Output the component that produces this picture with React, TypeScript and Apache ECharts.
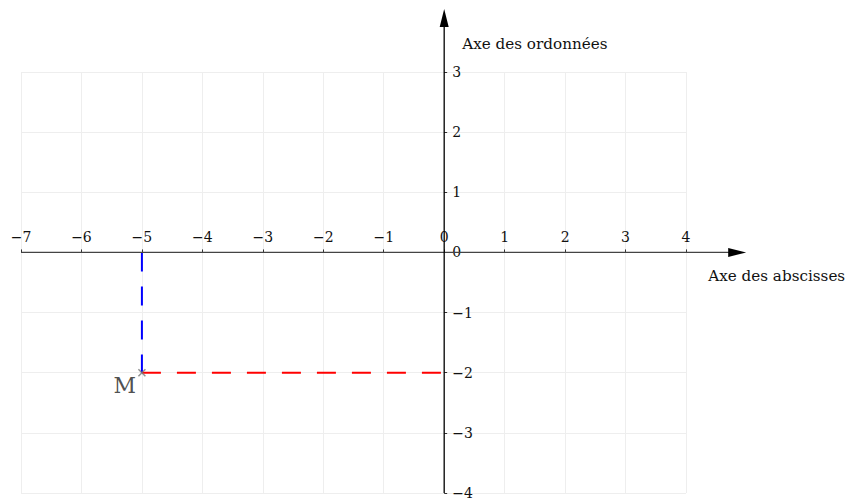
import React, { useEffect, useRef } from "react";
import * as echarts from "echarts";

const xRange = [-7, 4];
const yRange = [-4, 3];
const pointM = [-5, -2];
const pointLabel = "M";
const xAxisTitle = "Axe des abscisses";
const yAxisTitle = "Axe des ordonnées";
const verticalDash = [[-5, 0], [-5, -2]];
const horizontalDash = [[-5, -2], [0, -2]];

const FONT = "DejaVu Serif";
const fmt = (v: number) => String(v).replace("-", "\u2212");

export default function App() {
  const ref = useRef<HTMLDivElement>(null);
  useEffect(() => {
    document.body.style.margin = "0";
    const chart = echarts.init(ref.current!, null, { renderer: "svg" });
    chart.setOption({
      animation: false,
      grid: { left: 21, right: 160, top: 72, bottom: 6 },
      xAxis: {
        type: "value",
        min: xRange[0],
        max: xRange[1],
        interval: 1,
        position: "bottom",
        offset: 0,
        axisLine: { show: false, onZero: false },
        axisTick: { show: true, length: 3, inside: true, lineStyle: { color: "#333" } },
        axisLabel: {
          inside: true,
          margin: 8,
          formatter: fmt,
          fontFamily: FONT,
          fontSize: 14,
          color: "#111",
        },
        splitLine: { show: true, lineStyle: { color: "#eeeeee", width: 1 } },
      },
      yAxis: {
        type: "value",
        min: yRange[0],
        max: yRange[1],
        interval: 1,
        position: "left",
        offset: 0,
        axisLine: { show: false, onZero: false },
        axisTick: { show: true, length: 3, inside: true, lineStyle: { color: "#333" } },
        axisLabel: {
          inside: true,
          margin: 8,
          formatter: fmt,
          fontFamily: FONT,
          fontSize: 14,
          color: "#111",
          padding: [3, 0, 0, 0],
        },
        splitLine: { show: true, lineStyle: { color: "#eeeeee", width: 1 } },
      },
      series: [
        {
          type: "line",
          data: verticalDash,
          symbol: "none",
          lineStyle: { color: "#0000ff", width: 2, type: [19, 15] },
          z: 3,
        },
        {
          type: "line",
          data: horizontalDash,
          symbol: "none",
          lineStyle: { color: "#ff0000", width: 2, type: [19, 16] },
          z: 3,
        },
        {
          type: "scatter",
          data: [pointM],
          symbol: "path://M0,0L10,10M10,0L0,10",
          symbolSize: 7,
          itemStyle: { color: "none", borderColor: "#777", borderWidth: 1.5 },
          label: {
            show: true,
            formatter: pointLabel,
            position: "left",
            offset: [5, 13],
            fontFamily: FONT,
            fontSize: 22,
            color: "#222",
          },
          z: 5,
        },
      ],
    });
    const c = (x: number, y: number) => chart.convertToPixel({ gridIndex: 0 }, [x, y]) as number[];
    const o = c(0, 0);
    const xs = c(xRange[0], 0);
    const ys = c(0, yRange[0]);
    const xTip = o[0] + 302;
    const yTip = 9;
    chart.setOption({
      xAxis: { offset: -(ys[1] - o[1]) },
      yAxis: { offset: -(o[0] - xs[0]) },
      graphic: [
        { type: "line", shape: { x1: xs[0], y1: o[1], x2: xTip - 16, y2: o[1] }, style: { stroke: "#444", lineWidth: 1.2 }, z: 10 },
        { type: "polygon", shape: { points: [[xTip, o[1]], [xTip - 18, o[1] - 4.5], [xTip - 18, o[1] + 4.5]] }, style: { fill: "#000" }, z: 10 },
        { type: "line", shape: { x1: o[0], y1: ys[1], x2: o[0], y2: yTip + 16 }, style: { stroke: "#000", lineWidth: 1.3 }, z: 10 },
        { type: "polygon", shape: { points: [[o[0], yTip], [o[0] - 4.5, yTip + 18], [o[0] + 4.5, yTip + 18]] }, style: { fill: "#000" }, z: 10 },
        { type: "text", x: xTip - 38, y: o[1] + 24, style: { text: xAxisTitle, fontFamily: FONT, fontSize: 15.2, fill: "#111", verticalAlign: "middle" }, z: 10 },
        { type: "text", x: o[0] + 18, y: 44, style: { text: yAxisTitle, fontFamily: FONT, fontSize: 15.2, fill: "#111", verticalAlign: "middle" }, z: 10 },
      ],
    });
    return () => chart.dispose();
  }, []);
  return <div ref={ref} style={{ width: 846, height: 500 }} />;
}
